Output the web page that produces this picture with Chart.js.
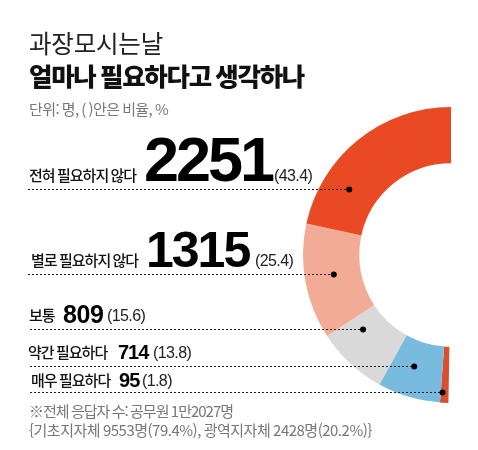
<!DOCTYPE html>
<html lang="ko">
<head>
<meta charset="utf-8">
<title>과장모시는날</title>
<script src="https://cdn.jsdelivr.net/npm/chart.js@4"></script>
<style>
html, body { margin: 0; padding: 0; background: #fff; }
canvas { display: block; }
</style>
</head>
<body>
<canvas id="chart" width="478" height="450"></canvas>
<script>
const categories = ['전혀 필요하지 않다', '별로 필요하지 않다', '보통', '약간 필요하다', '매우 필요하다'];
const counts = [2251, 1315, 809, 714, 95];
const shares = [43.4, 25.4, 15.6, 13.8, 1.8];
const sliceColors = ['#e94a24', '#f2ab94', '#d9d9d9', '#78bbde', '#d9502f'];

const titleLight = '과장모시는날';
const titleBold = '얼마나 필요하다고 생각하나';
const unitNote = '단위: 명, ( )안은 비율, %';
const footNotes = ['※전체 응답자 수: 공무원 1만2027명', '{기초지자체 9553명(79.4%), 광역지자체 2428명(20.2%)}'];

const KR = '"Noto Sans CJK KR"';
const NUM = '"Liberation Sans"';

// x of label, number, share / baselines / number size per row
const rows = [
    { lx: 29, nx: 144, sx: 274, ly: 181, ny: 181, size: 63, sp: -3 },
    { lx: 31, nx: 146, sx: 255, ly: 266, ny: 267, size: 50, sp: -2 },
    { lx: 29, nx: 63, sx: 107, ly: 321, ny: 323, size: 25, sp: -0.4 },
    { lx: 28, nx: 118, sx: 153, ly: 358, ny: 359, size: 20, sp: -1 },
    { lx: 31, nx: 119, sx: 142, ly: 386, ny: 387, size: 20, sp: -0.8 }
];
// where the dot sits inside each slice: along the slice, and share of the outer radius
const dots = [
    { along: 0.736, rad: 0.818, left: 28 },
    { along: 0.47, rad: 0.802, left: 28 },
    { along: 0.25, rad: 0.777, left: 30 },
    { along: 0.43, rad: 0.79, left: 30 },
    { along: 0.23, rad: 0.925, left: 30 }
];

function put(ctx, text, x, y, font, color, spacing) {
    ctx.font = font;
    ctx.fillStyle = color;
    ctx.letterSpacing = spacing + 'px';
    ctx.textBaseline = 'alphabetic';
    ctx.textAlign = 'left';
    ctx.fillText(text, x, y);
}

const textPlugin = {
    id: 'textPlugin',
    afterDraw(chart) {
        const ctx = chart.ctx;
        const arcs = chart.getDatasetMeta(0).data;
        ctx.save();

        put(ctx, titleLight, 29, 53, '400 24.5px ' + KR, '#222', -0.2);
        put(ctx, titleBold, 29, 86, '900 25.5px ' + KR, '#111', -1.3);
        put(ctx, unitNote, 29, 115, '400 15px ' + KR, '#777', -0.6);

        categories.forEach((name, i) => {
            const r = rows[i];
            put(ctx, name, r.lx, r.ly, '500 15px ' + KR, '#111', -1);
            put(ctx, String(counts[i]), r.nx, r.ny, '700 ' + r.size + 'px ' + NUM, '#000', r.sp);
            put(ctx, '(' + shares[i].toFixed(1) + ')', r.sx, r.ly, '400 16px ' + NUM, '#222', -0.6);

            // arcs are stored bottom to top, the rows run top to bottom
            const arc = arcs[arcs.length - 1 - i];
            const a = arc.endAngle - dots[i].along * (arc.endAngle - arc.startAngle);
            const x = arc.x + arc.outerRadius * dots[i].rad * Math.cos(a);
            const y = Math.round(arc.y + arc.outerRadius * dots[i].rad * Math.sin(a)) + 0.5;
            ctx.strokeStyle = '#222';
            ctx.lineWidth = 1;
            ctx.setLineDash([2, 2]);
            ctx.beginPath();
            ctx.moveTo(dots[i].left, y);
            ctx.lineTo(x, y);
            ctx.stroke();
            ctx.setLineDash([]);
            ctx.fillStyle = '#000';
            ctx.beginPath();
            ctx.arc(x, y, 3, 0, Math.PI * 2);
            ctx.fill();
        });

        put(ctx, footNotes[0], 29, 417, '400 15px ' + KR, '#777', -1);
        put(ctx, footNotes[1], 29, 436, '400 15px ' + KR, '#777', -0.5);
        ctx.restore();
    }
};

new Chart(document.getElementById('chart').getContext('2d'), {
    type: 'doughnut',
    data: {
        labels: categories.slice().reverse(),
        datasets: [{
            data: counts.slice().reverse(),
            backgroundColor: sliceColors.slice().reverse(),
            borderWidth: 0
        }]
    },
    options: {
        responsive: false,
        animation: false,
        events: [],
        rotation: 181,
        circumference: 179,
        cutout: '62%',
        layout: { padding: { left: 303, top: 107, right: 27, bottom: 47 } },
        plugins: { legend: { display: false }, tooltip: { enabled: false } }
    },
    plugins: [textPlugin]
});
</script>
</body>
</html>
